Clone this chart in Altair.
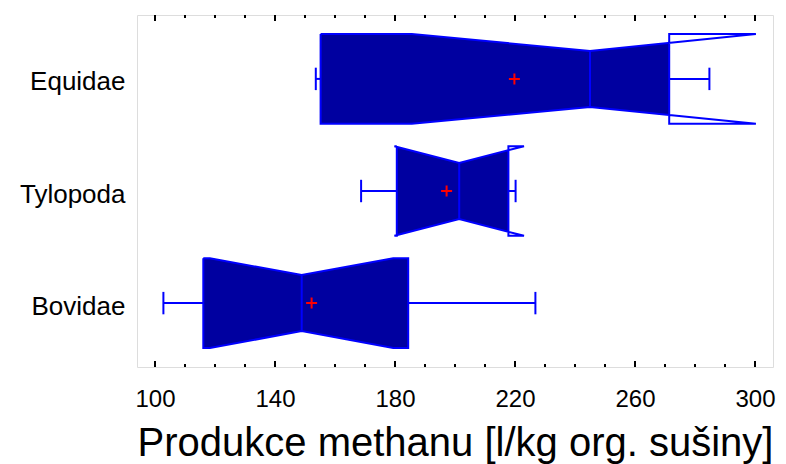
import json
import numpy as np
import pandas as pd
import altair as alt

# ---- data ----
categories = ["Bovidae", "Tylopoda", "Equidae"]
whisker_low = [102.8, 168.7, 153.6]
q1 = [116.1, 180.6, 155.2]
median = [148.9, 201.4, 245.0]
q3 = [184.4, 217.8, 271.4]
whisker_high = [226.8, 220.2, 284.8]
notch_low = [118.3, 179.8, 185.6]
notch_high = [179.4, 223.0, 300.3]
means = [152.2, 197.2, 219.8]

major_ticks = [100, 140, 180, 220, 260, 300]
minor_ticks = [110, 120, 130, 150, 160, 170, 190, 200, 210,
               230, 240, 250, 270, 280, 290]

# ---- geometry (style) ----
BOX = 0.40
NOTCH = 0.25
CAP = 0.10
FILL = "#0000A0"
LINE = "#0000FF"
FONT = "Liberation Sans"
W, H = 636, 352

outline_rows, fill_rows, seg_rows, mean_rows = [], [], [], []
for i, cat in enumerate(categories):
    pos = i + 1
    a, nl, md, nh, b = q1[i], notch_low[i], median[i], notch_high[i], q3[i]
    pts = [(a, BOX), (nl, BOX), (md, NOTCH), (nh, BOX), (b, BOX),
           (b, -BOX), (nh, -BOX), (md, -NOTCH), (nl, -BOX), (a, -BOX), (a, BOX)]
    for k, (x, off) in enumerate(pts):
        outline_rows.append({"cat": cat, "i": k, "x": x, "y": pos + off})
    xs = sorted(set(min(max(v, a), b) for v in [a, nl, md, nh, b]))
    for x in xs:
        h = float(np.interp(x, [nl, md, nh], [BOX, NOTCH, BOX]))
        fill_rows.append({"cat": cat, "x": x, "ylo": pos - h, "yhi": pos + h})
    # median line
    seg_rows.append({"x": md, "x2": md, "y": pos - NOTCH, "y2": pos + NOTCH})
    # whiskers
    seg_rows.append({"x": whisker_low[i], "x2": a, "y": pos, "y2": pos})
    seg_rows.append({"x": b, "x2": whisker_high[i], "y": pos, "y2": pos})
    seg_rows.append({"x": whisker_low[i], "x2": whisker_low[i], "y": pos - CAP, "y2": pos + CAP})
    seg_rows.append({"x": whisker_high[i], "x2": whisker_high[i], "y": pos - CAP, "y2": pos + CAP})
    mean_rows.append({"cat": cat, "x": means[i], "y": pos})

outline_df = pd.DataFrame(outline_rows)
fill_df = pd.DataFrame(fill_rows)
seg_df = pd.DataFrame(seg_rows)
mean_df = pd.DataFrame(mean_rows)
major_df = pd.DataFrame({"t": major_ticks})
minor_df = pd.DataFrame({"t": minor_ticks})

x_scale = alt.Scale(domain=[94, 306], nice=False, zero=False)
y_scale = alt.Scale(domain=[0.43, 3.57], nice=False, zero=False)

x_axis = alt.Axis(
    values=major_ticks, title="Produkce methanu [l/kg org. sušiny]",
    grid=False, domain=False, ticks=False, tickSize=0,
    labelFontSize=24, labelFont=FONT, labelColor="black", labelPadding=20,
    titleFontSize=40, titleFont=FONT, titleFontWeight="normal", titleColor="black",
    titleBaseline="alphabetic", titleY=88,
)
y_axis = alt.Axis(
    values=[1, 2, 3], title=None,
    labelExpr=json.dumps(categories) + "[datum.value - 1]",
    grid=False, domain=False, ticks=False, tickSize=0,
    labelFontSize=26, labelFont=FONT, labelColor="black", labelPadding=12,
    labelOffset=3,
)


def X(field):
    return alt.X(field, type="quantitative", scale=x_scale, axis=x_axis)


def Y(field):
    return alt.Y(field, type="quantitative", scale=y_scale, axis=y_axis)


fill = alt.Chart(fill_df).mark_area(
    fill=FILL, fillOpacity=1, opacity=1, interpolate="linear", orient="vertical"
).encode(
    x=X("x"), y=Y("ylo"), y2=alt.Y2("yhi"), detail="cat:N"
)
outline = alt.Chart(outline_df).mark_line(color=LINE, strokeWidth=2).encode(
    x=X("x"), y=Y("y"), detail="cat:N", order="i:Q"
)
segs = alt.Chart(seg_df).mark_rule(color=LINE, strokeWidth=2).encode(
    x=X("x"), x2="x2", y=Y("y"), y2="y2"
)
mean_pts = alt.Chart(mean_df).mark_point(
    shape="M-1,0L1,0M0,-1L0,1", size=121, color="red", strokeWidth=2,
    filled=False, opacity=1
).encode(x=X("x"), y=Y("y"))

tick_layers = []
for df, length in [(major_df, 6), (minor_df, 3)]:
    tick_layers.append(alt.Chart(df).mark_rule(color="black", strokeWidth=2).encode(
        x=X("t"), y=alt.value(H), y2=alt.value(H - length)))
    tick_layers.append(alt.Chart(df).mark_rule(color="black", strokeWidth=2).encode(
        x=X("t"), y=alt.value(0), y2=alt.value(length)))

chart = alt.layer(fill, outline, segs, mean_pts, *tick_layers).properties(
    width=W, height=H,
    autosize=alt.AutoSizeParams(type="none"),
    padding={"left": 137, "top": 15, "right": 13, "bottom": 97},
).configure_view(stroke="black", strokeWidth=2).configure(background="white")

chart.save("out.html", embed_options={"renderer": "svg", "actions": False})
